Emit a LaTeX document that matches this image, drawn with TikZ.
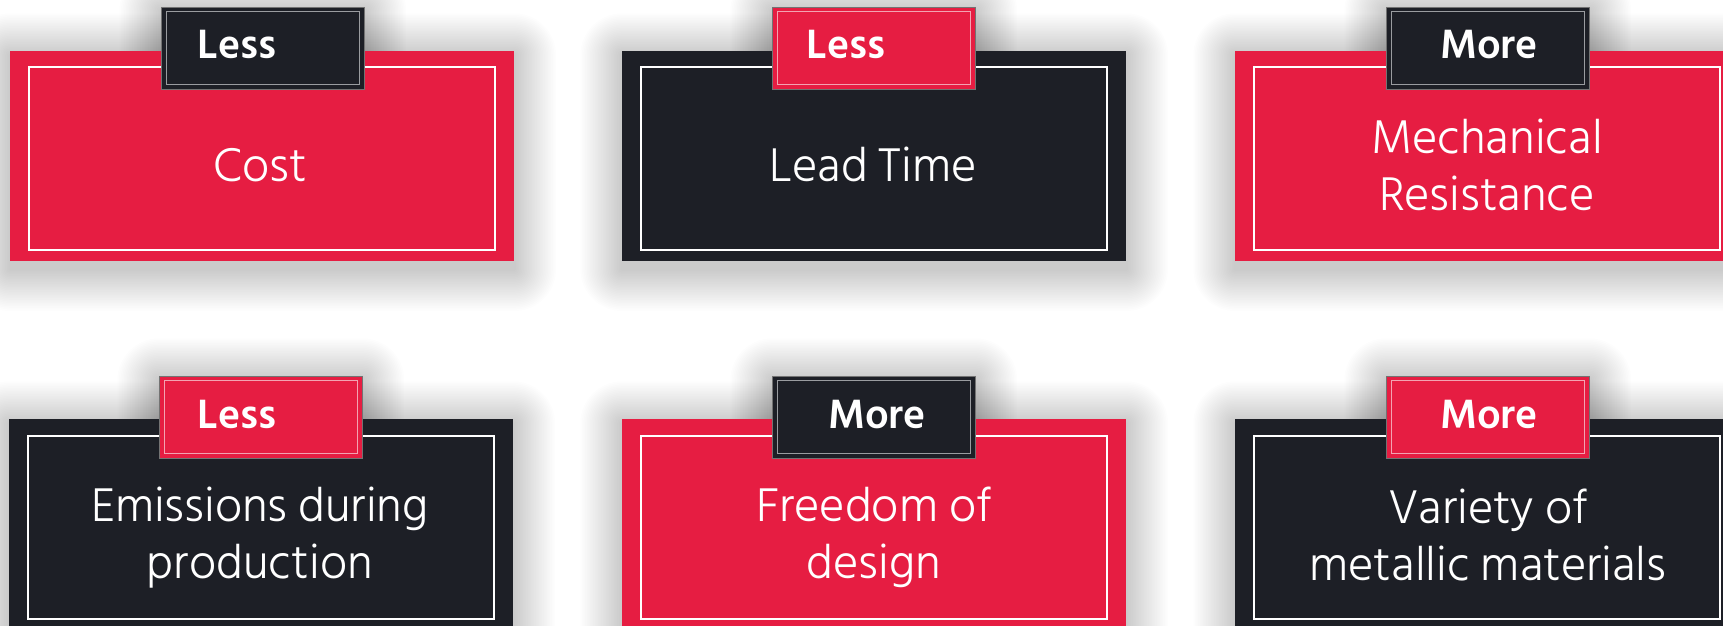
\documentclass[tikz,border=0pt]{standalone}
\usepackage{fontspec}
\setmainfont{Hind Siliguri}
\newfontfamily\lightfont{Hind Siliguri Light}
\definecolor{cred}{HTML}{E61D42}
\definecolor{cdark}{HTML}{1D1F26}
\definecolor{tagline}{HTML}{9A9CA0}
\definecolor{tagpink}{HTML}{F3A3B2}
\pgfdeclarelayer{back}
\pgfdeclarelayer{shade}
\pgfsetlayers{back,shade,main}
\tikzset{
  card/.style={anchor=north west, minimum width=504pt, minimum height=210pt, inner sep=0pt, draw=none},
  frame/.style={anchor=north west, minimum width=466pt, minimum height=183pt, inner sep=0pt, draw=white, line width=2.4pt},
  tagbox/.style={anchor=north west, minimum width=203pt, minimum height=82pt, inner sep=0pt, draw=black!55, line width=0.6pt},
  tagframe/.style={minimum width=193pt, minimum height=73pt, inner sep=0pt, line width=1pt},
  tagtext/.style={anchor=base, text=white, font=\fontsize{42}{46}\selectfont\bfseries},
  maintext/.style={anchor=base, text=white, align=center, font=\lightfont\fontsize{48.5}{57}\selectfont},
}
\newcommand\shad[1]{%
  \begin{pgfonlayer}{shade}
  \foreach \i [evaluate=\i as \r using 1.6*\i] in {1,...,26}{
    \fill[black, opacity=0.0075, rounded corners=\r pt]
      ([shift={(-1.6*\i,-1.6*\i+4)}]#1.north west) rectangle ([shift={(1.6*\i,1.6*\i+8)}]#1.south east);
  }
  \end{pgfonlayer}}
\begin{document}
\begin{tikzpicture}[x=1pt,y=-1pt]
\useasboundingbox (0,0) rectangle (1723,626);
\begin{pgfonlayer}{back}
\fill[white] (0,0) rectangle (1723,626);
\end{pgfonlayer}
\clip (0,0) rectangle (1723,626);

% ---- card 1: Cost
\node[card, fill=cred] (c1) at (10,51) {};
\node[frame] (f1) at (28,66) {};
\node[tagbox, fill=cdark] (t1) at (161,7) {};
\node[tagframe, draw=tagline] (tf1) at (t1.center) {};
\node[tagtext] (tt1) at (237,59) {Less};
\node[maintext] (m1) at (260,181) {Cost};
\shad{c1}\shad{t1}

% ---- card 2: Lead Time
\node[card, fill=cdark] (c2) at (622,51) {};
\node[frame] (f2) at (640,66) {};
\node[tagbox, fill=cred] (t2) at (772,7) {};
\node[tagframe, draw=tagpink] (tf2) at (t2.center) {};
\node[tagtext] (tt2) at (846,59) {Less};
\node[maintext] (m2) at (873,181) {Lead Time};
\shad{c2}\shad{t2}

% ---- card 3: Mechanical Resistance
\node[card, fill=cred] (c3) at (1235,51) {};
\node[frame] (f3) at (1253,66) {};
\node[tagbox, fill=cdark] (t3) at (1386,7) {};
\node[tagframe, draw=tagline] (tf3) at (t3.center) {};
\node[tagtext] (tt3) at (1489,59) {More};
\node[maintext] (m3) at (1487,210) {Mechanical\\Resistance};
\shad{c3}\shad{t3}

% ---- card 4: Emissions during production
\node[card, fill=cdark] (c4) at (9,419) {};
\node[frame] (f4) at (27,435) {};
\node[tagbox, fill=cred] (t4) at (159,376) {};
\node[tagframe, draw=tagpink] (tf4) at (t4.center) {};
\node[tagtext] (tt4) at (237,428) {Less};
\node[maintext] (m4) at (260,578) {Emissions during\\production};
\shad{c4}\shad{t4}

% ---- card 5: Freedom of design
\node[card, fill=cred] (c5) at (622,419) {};
\node[frame] (f5) at (640,435) {};
\node[tagbox, fill=cdark] (t5) at (772,376) {};
\node[tagframe, draw=tagline] (tf5) at (t5.center) {};
\node[tagtext] (tt5) at (877,428) {More};
\node[maintext] (m5) at (874,578) {Freedom of\\design};
\shad{c5}\shad{t5}

% ---- card 6: Variety of metallic materials
\node[card, fill=cdark] (c6) at (1235,419) {};
\node[frame] (f6) at (1253,435) {};
\node[tagbox, fill=cred] (t6) at (1386,376) {};
\node[tagframe, draw=tagpink] (tf6) at (t6.center) {};
\node[tagtext] (tt6) at (1489,428) {More};
\node[maintext] (m6) at (1488,580) {Variety of\\metallic materials};
\shad{c6}\shad{t6}
\end{tikzpicture}
\end{document}
